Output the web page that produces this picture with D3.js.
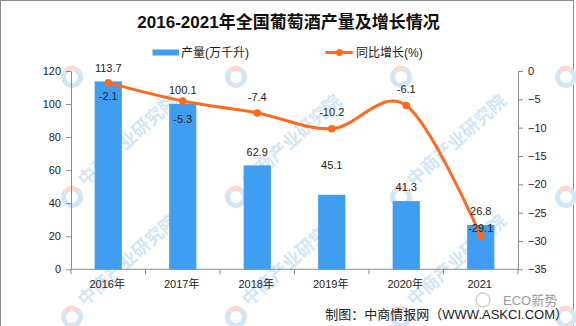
<!DOCTYPE html>
<html>
<head>
<meta charset="utf-8">
<script src="https://cdn.jsdelivr.net/npm/d3@7"></script>
<style>
  html, body { margin: 0; padding: 0; background: #fff; }
  svg { display: block; }
  text { font-family: "Liberation Sans", "Noto Sans CJK SC", sans-serif; }
</style>
</head>
<body>
<svg id="chart" width="576" height="326"></svg>
<script>
// ---- data ----
const years = ["2016年", "2017年", "2018年", "2019年", "2020年", "2021"];
const output = [113.7, 100.1, 62.9, 45.1, 41.3, 26.8];       // 产量(万千升)
const growth = [-2.1, -5.3, -7.4, -10.2, -6.1, -29.1];        // 同比增长(%)
const leftTicks = [0, 20, 40, 60, 80, 100, 120];
const rightTicks = [0, -5, -10, -15, -20, -25, -30, -35];
const title = "2016-2021年全国葡萄酒产量及增长情况";
const legendNames = ["产量(万千升)", "同比增长(%)"];
const source = "制图：中商情报网（WWW.ASKCI.COM）";

// ---- layout (label offsets, px) ----
const barLabelDy = [-13, -14, -13, -30, -14, -14];
const lineLabelDy = [13, 18, -16, -16.5, -17, -7.6];

const BLUE = "#3f9ef1";
const ORANGE = "#ff6a1c";
const AXIS = "#8a8a8a";

const svg = d3.select("#chart");

// border
svg.append("rect").attr("x", 0.5).attr("y", 0.5).attr("width", 573).attr("height", 330)
  .attr("fill", "#fff").attr("stroke", "#8c8c8c").attr("stroke-width", 1);

// ---- watermark (logos everywhere, text only where it fits) ----
const wm = svg.append("g").attr("class", "watermark");
const wmXs = [-93, 72, 236, 401, 566];
const wmYs = [-43, 77, 197, 317];
wmYs.forEach(wy => wmXs.forEach(wx => {
  const g = wm.append("g").attr("transform", `translate(${wx},${wy})`);
  const arc = d3.arc().innerRadius(6).outerRadius(11);
  g.append("path").attr("d", arc({startAngle: Math.PI * 0.15, endAngle: Math.PI * 1.75}))
    .attr("fill", "#d3e6f6");
  g.append("path").attr("d", arc({startAngle: -Math.PI * 0.25, endAngle: Math.PI * 0.15}))
    .attr("fill", "#fbd9cc");
  if (wx + 10 >= 0 && wx + 125 <= 572 && wy - 118 >= 2 && wy <= 326) {
    g.append("text").attr("transform", "translate(13,-10) rotate(-42)")
      .attr("font-family", "Noto Sans CJK SC").attr("font-weight", "bold")
      .attr("font-size", 18).attr("fill", "#d3e6f6")
      .text("中商产业研究院");
  }
}));

// ---- scales ----
const x = d3.scaleBand().domain(years).range([71, 518]).paddingInner(0.635).paddingOuter(0.3175);
const yL = d3.scaleLinear().domain([0, 120]).range([269.3, 71]);
const yR = d3.scaleLinear().domain([-35, 0]).range([269.3, 71]);
const cx = d => x(d) + x.bandwidth() / 2;

// ---- title ----
svg.append("text").attr("x", 288.5).attr("y", 27.5).attr("text-anchor", "middle")
  .attr("font-family", "'Liberation Serif', 'Noto Sans CJK SC', serif")
  .attr("font-weight", "bold").attr("font-size", 17).attr("fill", "#111")
  .text(title);

// ---- legend ----
const lg = svg.append("g");
lg.append("rect").attr("x", 152.5).attr("y", 49.5).attr("width", 26.5).attr("height", 6).attr("fill", BLUE);
lg.append("text").attr("x", 181).attr("y", 57).attr("font-family", "Noto Sans CJK SC")
  .attr("font-size", 12).attr("fill", "#222").text(legendNames[0]);
lg.append("line").attr("x1", 325.5).attr("x2", 352.7).attr("y1", 52.5).attr("y2", 52.5)
  .attr("stroke", ORANGE).attr("stroke-width", 3);
lg.append("circle").attr("cx", 339.5).attr("cy", 52.5).attr("r", 3.5).attr("fill", ORANGE);
lg.append("text").attr("x", 356).attr("y", 57).attr("font-family", "Noto Sans CJK SC")
  .attr("font-size", 12).attr("fill", "#222").text(legendNames[1]);

// ---- axes ----
const axL = svg.append("g").attr("transform", "translate(71,0)")
  .call(d3.axisLeft(yL).tickValues(leftTicks).tickSize(5).tickSizeOuter(0).tickPadding(5));
const axR = svg.append("g").attr("transform", "translate(518,0)")
  .call(d3.axisRight(yR).tickValues(rightTicks).tickSize(5).tickSizeOuter(0).tickPadding(5));
[axL, axR].forEach(a => {
  a.selectAll("path, line").attr("stroke", AXIS);
  a.selectAll("text").attr("font-size", 11).attr("fill", "#222")
    .attr("font-family", "'Liberation Sans', sans-serif");
});

// x axis
const xa = svg.append("g").attr("transform", "translate(0,269.3)");
xa.append("line").attr("x1", 71).attr("x2", 518).attr("stroke", AXIS);
const gap = (x.step() - x.bandwidth()) / 2;
const bounds = years.map(d => x(d) - gap).concat([x(years[years.length - 1]) + x.bandwidth() + gap]);
xa.selectAll("line.tk").data(bounds).join("line").attr("class", "tk")
  .attr("x1", d => d).attr("x2", d => d).attr("y1", 0).attr("y2", 5).attr("stroke", AXIS);
xa.selectAll("text").data(years).join("text")
  .attr("x", d => cx(d) - 1).attr("y", 19).attr("text-anchor", "middle")
  .attr("font-size", 11).attr("fill", "#222").text(d => d);

// ---- bars ----
svg.append("g").selectAll("rect").data(output).join("rect")
  .attr("x", (d, i) => x(years[i])).attr("width", x.bandwidth())
  .attr("y", d => yL(d)).attr("height", d => yL(0) - yL(d))
  .attr("fill", BLUE);

// ---- line ----
const pts = growth.map((v, i) => [cx(years[i]), yR(v)]);
svg.append("path").attr("d", d3.line().curve(d3.curveCardinal.tension(0))(pts))
  .attr("fill", "none").attr("stroke", ORANGE).attr("stroke-width", 3);
svg.append("g").selectAll("circle").data(pts).join("circle")
  .attr("cx", d => d[0]).attr("cy", d => d[1]).attr("r", 3.8).attr("fill", ORANGE);

// ---- data labels ----
svg.append("g").selectAll("text").data(output).join("text")
  .attr("x", (d, i) => cx(years[i])).attr("y", (d, i) => yL(d) + barLabelDy[i] + 4)
  .attr("text-anchor", "middle").attr("font-size", 11).attr("fill", "#222")
  .text(d => d.toFixed(1));
svg.append("g").selectAll("text").data(growth).join("text")
  .attr("x", (d, i) => cx(years[i])).attr("y", (d, i) => yR(d) + lineLabelDy[i] + 4)
  .attr("text-anchor", "middle").attr("font-size", 11).attr("fill", "#222")
  .text(d => d.toFixed(1));

// ---- footer ----
const wx = svg.append("g").attr("transform", "translate(483,300)");
wx.append("circle").attr("r", 7).attr("fill", "none").attr("stroke", "#b5b5b5").attr("stroke-width", 1);
svg.append("text").attr("x", 503).attr("y", 304.5).attr("font-size", 13)
  .attr("font-family", "'Liberation Sans', 'Noto Sans CJK SC', sans-serif")
  .attr("fill", "#9a9a9a").text("ECO新势");
svg.append("text").attr("x", 568).attr("y", 319).attr("text-anchor", "end")
  .attr("font-family", "'Noto Sans CJK SC', sans-serif").attr("font-size", 13).attr("fill", "#222")
  .text(source);
</script>
</body>
</html>
